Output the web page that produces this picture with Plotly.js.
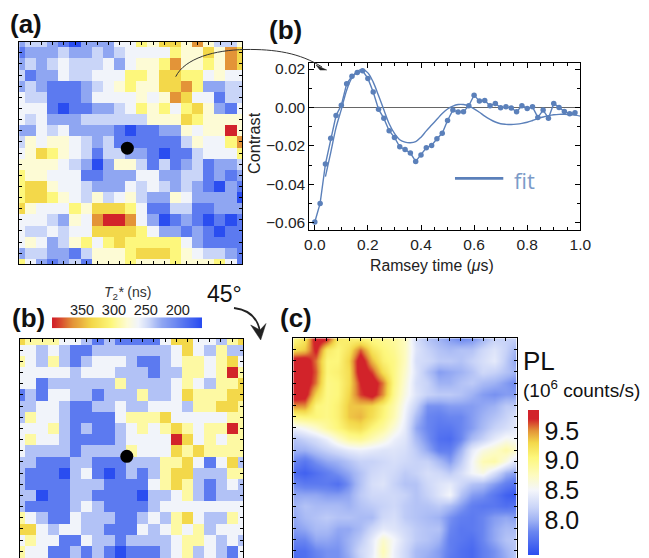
<!DOCTYPE html>
<html><head><meta charset="utf-8">
<script src="https://cdn.plot.ly/plotly-3.0.1.min.js"></script>
<style>html,body{margin:0;padding:0;background:#fff;overflow:hidden}#wrap{width:649px;height:558px;overflow:hidden}</style>
</head><body><div id="wrap"><div id="chart"></div></div>
<script>
// T2* maps: colour-level codes
const t2LevelsA = [165,195,225,245,262,280,305,335,365,395];
const t2LevelsB = [165,195,225,237,262,294,305,335,365,395];
const mapA = [
[2,3,3,2,1,0,2,2,2,4,4,6,5,7,7,5,8,5,3,3,5],
[1,2,2,2,3,2,2,3,2,3,4,4,4,4,6,5,5,7,5,8,7],
[2,3,2,3,4,3,3,3,4,2,4,5,5,6,8,5,5,6,5,8,7],
[3,1,2,2,4,3,3,4,4,4,6,6,5,7,7,6,6,4,5,4,4],
[2,3,2,1,1,1,2,3,4,5,6,5,5,7,7,8,6,2,2,3,3],
[4,3,3,1,1,1,2,4,4,4,4,5,4,5,8,7,4,4,1,3,3],
[4,4,4,1,0,1,1,2,2,3,4,6,5,6,4,6,7,5,2,1,4],
[4,3,4,2,2,2,3,3,3,3,3,3,5,5,5,7,6,5,5,5,5],
[2,2,4,3,4,2,2,2,2,1,0,1,1,2,2,5,4,5,5,9,5],
[3,5,4,5,5,4,3,2,3,1,1,1,1,1,1,3,5,4,4,6,8],
[4,5,7,6,5,4,3,1,3,3,2,2,1,0,1,1,3,4,4,4,6],
[5,5,5,5,4,3,2,0,2,5,5,3,1,3,1,2,3,1,2,2,3],
[6,5,5,4,4,4,1,1,2,2,2,4,4,2,2,3,3,1,2,1,2],
[6,7,7,5,4,4,3,2,2,2,4,3,4,3,2,3,2,1,0,2,1],
[6,7,7,6,5,4,3,5,3,4,5,3,2,2,5,4,2,2,2,2,0],
[7,5,4,4,4,6,5,7,7,7,6,4,1,1,3,3,1,1,2,2,2],
[4,4,4,3,2,5,4,8,9,9,8,4,2,0,1,2,1,0,1,0,1],
[4,3,3,4,3,4,4,7,7,7,7,6,4,2,2,1,2,1,0,1,1],
[4,5,4,2,3,5,6,4,6,7,6,6,6,6,6,4,2,1,1,1,1],
[2,3,3,2,2,1,3,5,5,5,6,7,7,7,6,5,4,3,3,2,1],
[6,4,2,1,2,3,1,5,5,5,6,5,5,5,6,5,5,5,6,4,1]];
const mapB = [
[7,5,5,5,4,4,3,1,3,1,1,1,1,4,7,7,4,4,3,5,7],
[4,4,3,4,3,1,1,3,3,3,3,3,3,3,4,7,4,3,5,3,3],
[5,4,3,5,3,1,3,4,4,4,3,1,1,3,4,5,5,4,5,7,4],
[4,4,4,4,4,3,4,4,4,3,3,3,1,3,3,5,5,4,5,9,5],
[4,4,1,3,3,3,3,3,3,5,3,3,3,3,4,5,4,3,5,5,7],
[1,3,1,4,4,3,3,1,3,3,3,5,3,3,4,7,5,5,5,7,7],
[3,3,4,4,3,1,1,3,3,4,3,3,4,4,4,3,5,5,7,7,5],
[3,5,4,4,3,1,1,1,1,4,5,5,5,7,4,4,4,4,4,5,5],
[4,4,4,5,3,1,3,1,1,3,4,5,4,5,7,5,4,5,5,9,5],
[4,5,4,4,3,1,1,1,1,3,4,4,4,4,9,7,4,5,4,5,5],
[4,3,3,3,3,1,3,3,3,3,5,4,4,4,7,5,7,5,5,5,5],
[3,3,1,1,1,3,3,1,1,1,3,3,3,5,5,7,4,1,4,7,3],
[3,1,1,1,0,3,4,1,0,1,3,1,3,5,7,7,3,3,3,5,5],
[3,1,1,1,1,3,3,3,1,1,1,1,4,5,7,5,3,1,3,4,3],
[3,3,0,1,1,3,3,1,1,1,1,0,3,3,4,5,3,1,3,3,3],
[3,1,1,1,1,3,4,3,1,1,1,1,3,4,4,4,4,4,4,4,4],
[5,4,3,1,1,4,3,3,3,1,1,3,4,3,5,7,4,3,3,5,4],
[7,7,4,3,4,4,3,3,1,1,1,4,3,4,5,4,5,3,4,4,4],
[4,5,4,4,1,1,4,3,3,1,3,3,3,3,4,5,5,4,3,4,3],
[5,4,4,1,1,3,1,3,1,0,1,1,1,3,4,5,3,4,3,1,4],
[5,4,4,1,1,3,1,3,1,0,1,1,1,3,4,5,3,4,3,1,4]];
const t2Strip = [400,385,370,355,340,325,310,295,280,265,250,235,220,205,190,175,160];
const t2Ticks = [350,300,250,200];
// PL map (10^6 counts/s)
const plMap = [
[9.0,9.2,9.85,9.75,9.15,9.1,9.05,9.0,8.95,8.9,8.75,8.3,8.1,8.0,7.9,7.8,7.85,8.0,8.2,8.2,8.2],
[9.25,9.35,9.75,9.15,9.05,9.2,9.6,9.2,9.05,8.95,8.75,8.35,8.2,8.1,8.05,8.1,8.1,8.25,8.35,8.2,8.0],
[9.85,9.85,9.55,9.05,9.05,9.3,9.85,9.4,9.1,9.0,8.75,8.3,8.25,8.15,8.15,8.1,8.2,8.3,8.4,8.15,7.9],
[9.85,9.85,9.6,9.05,9.1,9.25,9.85,9.65,9.25,9.0,8.7,8.35,8.1,7.9,7.95,8.0,8.1,8.25,8.2,8.1,8.0],
[9.85,9.85,9.55,9.0,9.05,9.25,9.7,9.85,9.55,9.0,8.65,8.3,8.2,8.0,8.0,8.1,8.15,8.05,8.0,7.9,7.8],
[9.85,9.8,9.3,9.0,9.05,9.3,9.65,9.8,9.5,8.95,8.6,8.35,8.2,8.15,8.15,8.1,8.0,7.9,7.85,7.9,7.9],
[9.5,9.5,9.05,9.0,9.1,9.35,9.35,9.3,9.1,8.85,8.5,8.2,7.85,7.85,7.9,7.9,7.9,7.95,8.0,8.15,8.15],
[9.0,9.05,9.05,9.0,9.1,9.35,9.4,9.25,9.05,8.8,8.45,8.05,7.8,7.75,7.8,7.8,7.9,8.0,8.1,8.2,8.35],
[8.45,8.55,8.7,8.9,9.05,9.2,9.25,9.05,8.9,8.65,8.4,7.95,7.8,7.7,7.7,7.8,7.9,8.05,8.2,8.3,8.4],
[8.1,8.2,8.3,8.45,8.7,8.9,8.95,8.8,8.65,8.45,8.35,8.05,7.85,7.65,7.62,7.8,8.05,8.2,8.4,8.55,8.5],
[8.0,8.0,8.1,8.2,8.3,8.4,8.45,8.4,8.35,8.35,8.3,8.15,7.95,7.75,7.75,8.0,8.4,8.6,8.7,8.85,8.7],
[7.8,7.7,7.85,7.95,8.0,8.1,8.2,8.2,8.25,8.3,8.25,8.2,8.2,8.05,7.9,8.15,8.5,8.8,8.85,8.6,8.3],
[7.62,7.55,7.65,7.75,7.85,7.95,8.1,8.25,8.3,8.25,8.15,8.2,8.3,8.25,8.15,8.3,8.5,8.6,8.3,8.0,7.9],
[7.8,7.72,7.72,7.72,7.65,7.85,8.1,8.3,8.35,8.2,8.1,8.1,8.25,8.35,8.4,8.25,8.1,8.05,7.9,7.75,7.65],
[7.95,7.95,7.95,7.9,7.9,7.95,8.15,8.25,8.25,8.25,8.2,8.1,8.2,8.35,8.5,8.1,7.9,7.85,7.7,7.55,7.48],
[8.0,8.1,8.05,8.05,8.05,8.0,8.1,8.15,8.2,8.25,8.15,8.1,8.1,8.15,8.05,7.9,7.75,7.7,7.7,7.65,7.7],
[7.95,8.05,8.1,8.15,8.1,8.1,8.05,8.05,8.25,8.3,8.15,8.1,8.05,8.0,7.85,7.75,7.72,7.8,7.9,7.95,7.9],
[7.9,7.95,8.05,8.05,7.95,7.95,8.05,8.25,8.4,8.35,8.25,8.15,8.1,8.1,7.8,7.7,7.72,7.8,7.95,8.05,8.05],
[7.8,7.8,7.95,7.95,7.9,8.0,8.15,8.4,8.7,8.5,8.3,8.15,8.1,8.0,7.75,7.7,7.65,7.8,7.95,8.1,8.15],
[7.65,7.65,7.8,7.85,7.85,8.0,8.25,8.4,8.8,8.45,8.25,8.05,8.0,7.9,7.75,7.65,7.6,7.75,7.85,8.0,8.15],
[7.6,7.65,7.75,7.85,7.85,7.95,8.2,8.45,8.7,8.45,8.25,8.05,7.95,7.9,7.7,7.65,7.6,7.75,7.85,7.95,8.15]];
const plTicks = [8.0,8.5,9.0,9.5];
// Ramsey
const ramseyT = [0,0.02,0.04,0.06,0.08,0.10,0.12,0.14,0.16,0.18,0.20,0.22,0.24,0.26,0.28,0.30,0.32,0.34,0.36,0.38,0.40,0.42,0.44,0.46,0.48,0.50,0.52,0.54,0.56,0.58,0.60,0.62,0.64,0.66,0.68,0.70,0.72,0.74,0.76,0.78,0.80,0.82,0.84,0.86,0.88,0.90,0.92,0.94,0.96,0.98];
const ramseyC = [-0.0597,-0.050,-0.0295,-0.016,-0.0042,0.0012,0.0123,0.0163,0.0182,0.0191,0.0151,0.008,-0.0009,-0.0057,-0.0121,-0.0156,-0.0205,-0.0219,-0.0238,-0.0281,-0.0248,-0.021,-0.0198,-0.0163,-0.0135,-0.0068,-0.0014,-0.0024,-0.0023,0.0009,0.0064,0.0033,0.0036,0.0009,0.0021,-0.0002,0.0003,-0.0003,-0.0023,0.0009,-0.0005,0.0003,-0.0052,-0.0014,-0.0056,0.0021,0.0,-0.0021,-0.0033,-0.0028];
const fitT = [0.04,0.06,0.08,0.10,0.12,0.14,0.16,0.18,0.20,0.22,0.24,0.26,0.28,0.30,0.32,0.34,0.36,0.38,0.40,0.42,0.44,0.46,0.48,0.50,0.52,0.54,0.56,0.58,0.60,0.62,0.64,0.66,0.68,0.70,0.72,0.74,0.76,0.78,0.80,0.82,0.84,0.86,0.88,0.90,0.92,0.94,0.96,0.98,1.0];
const fitC = [-0.036,-0.0235,-0.0105,-0.001,0.009,0.0155,0.0188,0.0198,0.018,0.0132,0.0062,-0.0012,-0.0085,-0.0135,-0.0168,-0.0181,-0.0184,-0.0178,-0.0155,-0.0122,-0.0092,-0.0062,-0.0032,-0.0008,0.0007,0.0015,0.0015,0.0007,-0.0007,-0.0025,-0.0045,-0.0062,-0.0076,-0.0085,-0.0088,-0.0089,-0.0087,-0.0083,-0.0077,-0.0068,-0.0058,-0.005,-0.0043,-0.0038,-0.0036,-0.0036,-0.0037,-0.004,-0.0045];
const keyT = [0.528,0.71];
const keyC = [-0.037,-0.037];

const W=649, H=566;
const px=x=>x/W, py=y=>1-y/H;
const scale=(stops,lo,hi)=>stops.map(s=>[(s[0]-lo)/(hi-lo),s[1]]);
const t2Lo=160,t2Hi=400;
const t2Colors=scale([[160,'#2A4DF0'],[165,'#2A4DF0'],[195,'#5C7AF0'],[225,'#8FA6F2'],[245,'#C9D5F8'],[262,'#F1F4FA'],[280,'#FDFBD5'],[305,'#FDF77C'],[335,'#F3D84A'],[365,'#E39438'],[395,'#D2232A'],[400,'#D2232A']],t2Lo,t2Hi);
const plLo=7.41,plHi=9.85;
const plColors=scale([[7.41,'#2A4DF0'],[7.8,'#6A86F0'],[8.0,'#A0B3F4'],[8.2,'#C8D3F8'],[8.5,'#F4F6FB'],[8.75,'#FDFBC0'],[9.05,'#FDF77C'],[9.3,'#F3D84A'],[9.5,'#E39438'],[9.7,'#D2232A'],[9.85,'#D2232A']],plLo,plHi);
const BLUE='#5B80BA';
const FONT='"Liberation Sans", Arial, sans-serif';
const TXT={family:FONT,size:15.5,color:'#222'};

const frame=(dom,anchor,rev)=>({domain:dom,anchor,range:rev?[20,0]:[0,20],showline:true,linecolor:'#000',linewidth:1,mirror:'allticks',ticks:'inside',ticklen:3,tickwidth:1,tickcolor:'#000',dtick:1,tick0:0,showticklabels:false,showgrid:false,zeroline:false});
const toNs=(m,l)=>m.map(r=>r.map(c=>l[c]));

const data=[
 {type:'heatmap',z:toNs(mapA,t2LevelsA),xaxis:'x',yaxis:'y',zmin:t2Lo,zmax:t2Hi,colorscale:t2Colors,showscale:false,hoverinfo:'skip'},
 {type:'scatter',mode:'markers',x:[9.69],y:[9.57],xaxis:'x',yaxis:'y',marker:{color:'#000',size:13},hoverinfo:'skip'},
 {type:'heatmap',z:toNs(mapB,t2LevelsB),xaxis:'x2',yaxis:'y2',zmin:t2Lo,zmax:t2Hi,colorscale:t2Colors,showscale:false,hoverinfo:'skip'},
 {type:'scatter',mode:'markers',x:[9.58],y:[10.5],xaxis:'x2',yaxis:'y2',marker:{color:'#000',size:13},hoverinfo:'skip'},
 {type:'heatmap',z:plMap,xaxis:'x3',yaxis:'y3',zmin:plLo,zmax:plHi,colorscale:plColors,zsmooth:'best',hoverinfo:'skip',showscale:true,
  colorbar:{x:px(528),xanchor:'left',y:py(410),yanchor:'top',thickness:11,thicknessmode:'pixels',len:145,lenmode:'pixels',xpad:0,ypad:0,outlinewidth:0,borderwidth:0,ticks:'',ticklen:0,tickvals:plTicks,ticktext:plTicks.map(v=>v.toFixed(1)),tickfont:{family:FONT,size:25,color:'#111'}}},
 {type:'heatmap',x:t2Strip,y:[0],z:[t2Strip],xaxis:'x4',yaxis:'y4',zmin:t2Lo,zmax:t2Hi,colorscale:t2Colors,zsmooth:'best',showscale:false,hoverinfo:'skip'},
 {type:'scatter',mode:'lines+markers',x:ramseyT,y:ramseyC,xaxis:'x5',yaxis:'y5',line:{color:BLUE,width:1.4},marker:{color:BLUE,size:5.5},hoverinfo:'skip'},
 {type:'scatter',mode:'lines',x:fitT,y:fitC,xaxis:'x5',yaxis:'y5',line:{color:BLUE,width:1.4,shape:'spline'},hoverinfo:'skip'},
 {type:'scatter',mode:'lines',x:keyT,y:keyC,xaxis:'x5',yaxis:'y5',line:{color:BLUE,width:2.8},hoverinfo:'skip'}
];

const ann=(x,y,text,size,extra)=>Object.assign({xref:'paper',yref:'paper',x:px(x),y:py(y),text,showarrow:false,xanchor:'left',yanchor:'middle',font:{family:FONT,size,color:'#111'}},extra||{});
const P=(x,y)=>px(x).toFixed(5)+' '+py(y).toFixed(5);

const layout={
 width:W,height:H,margin:{l:0,r:0,t:0,b:0,pad:0},paper_bgcolor:'#fff',plot_bgcolor:'#fff',showlegend:false,font:{family:FONT,color:'#222'},
 xaxis:frame([px(19.3),px(242.3)],'y'),
 yaxis:frame([py(264.3),py(41.7)],'x',true),
 xaxis2:frame([px(19.7),px(243.3)],'y2'),
 yaxis2:frame([py(562.4),py(339)],'x2',true),
 xaxis3:frame([px(293.3),px(516.7)],'y3'),
 yaxis3:frame([py(562),py(338.3)],'x3',true),
 xaxis4:{domain:[px(52),px(202)],anchor:'y4',range:[397,162],side:'top',showline:false,ticks:'',tickvals:t2Ticks,ticktext:t2Ticks.map(String),tickfont:{family:FONT,size:14.5,color:'#222'},showgrid:false,zeroline:false,ticklabelstandoff:-2},
 yaxis4:{domain:[py(328.3),py(317.3)],anchor:'x4',range:[-0.5,0.5],visible:false},
 xaxis5:{domain:[px(309.3),px(580.3)],anchor:'y5',range:[-0.0207,1.0],showline:true,linecolor:'#000',linewidth:1,mirror:'allticks',ticks:'inside',ticklen:5,tickcolor:'#000',dtick:0.2,tick0:0,tickformat:'.1f',minor:{ticks:'inside',ticklen:3,dtick:0.05,tick0:0,tickcolor:'#000',showgrid:false},showgrid:false,zeroline:false,tickfont:TXT},
 yaxis5:{domain:[py(230.3),py(62.7)],anchor:'x5',range:[-0.064,0.0233],showline:true,linecolor:'#000',linewidth:1,mirror:'allticks',ticks:'inside',ticklen:5,tickcolor:'#000',dtick:0.02,tick0:0,tickformat:'.2f',minor:{ticks:'inside',ticklen:3,dtick:0.01,tick0:0,tickcolor:'#000',showgrid:false},showgrid:false,zeroline:true,zerolinecolor:'#666',zerolinewidth:1,tickfont:TXT},
 annotations:[
  ann(8,24,'<b>(a)</b>',26),
  ann(267,30,'<b>(b)</b>',26),
  ann(10,318,'<b>(b)</b>',26),
  ann(278,318,'<b>(c)</b>',26),
  ann(512,180,'fit',22,{font:{family:'"Open Sans",'+FONT,size:22,color:'#7C9BC8'}}),
  ann(205,294,'45°',23),
  ann(127,293,'<i>T</i><sub>2</sub><i>*</i> (ns)',14,{xanchor:'center',font:{family:FONT,size:14,color:'#333'}}),
  ann(432,265,'Ramsey time (<i>μ</i>s)',15.8,{xanchor:'center',font:{family:FONT,size:15.8,color:'#222'}}),
  ann(254,143,'Contrast',16.2,{xanchor:'center',textangle:-90,font:{family:FONT,size:16.2,color:'#222'}}),
  ann(521,361,'PL',26),
  ann(521,389,'(10<sup>6</sup> counts/s)',19)
 ],
 shapes:[
  {type:'path',xref:'paper',yref:'paper',line:{color:'#333',width:1},path:'M '+P(175.7,76.7)+' C '+P(185,58)+' '+P(215,50)+' '+P(245,49.5)+' C '+P(275,49)+' '+P(300,53)+' '+P(322,67)},
  {type:'path',xref:'paper',yref:'paper',line:{color:'#222',width:0.5},fillcolor:'#222',path:'M '+P(326.7,70)+' L '+P(316,65)+' L '+P(320,70)+' Z'},
  {type:'path',xref:'paper',yref:'paper',line:{color:'#222',width:1.8},path:'M '+P(234,308)+' C '+P(250,310)+' '+P(258,318)+' '+P(260,332)},
  {type:'path',xref:'paper',yref:'paper',line:{color:'#222',width:0.5},fillcolor:'#222',path:'M '+P(260.7,340)+' L '+P(250.7,325)+' L '+P(260,330)+' L '+P(266,323.5)+' Z'}
 ]
};
Plotly.newPlot('chart',data,layout,{displayModeBar:false,staticPlot:true});
</script></body></html>
